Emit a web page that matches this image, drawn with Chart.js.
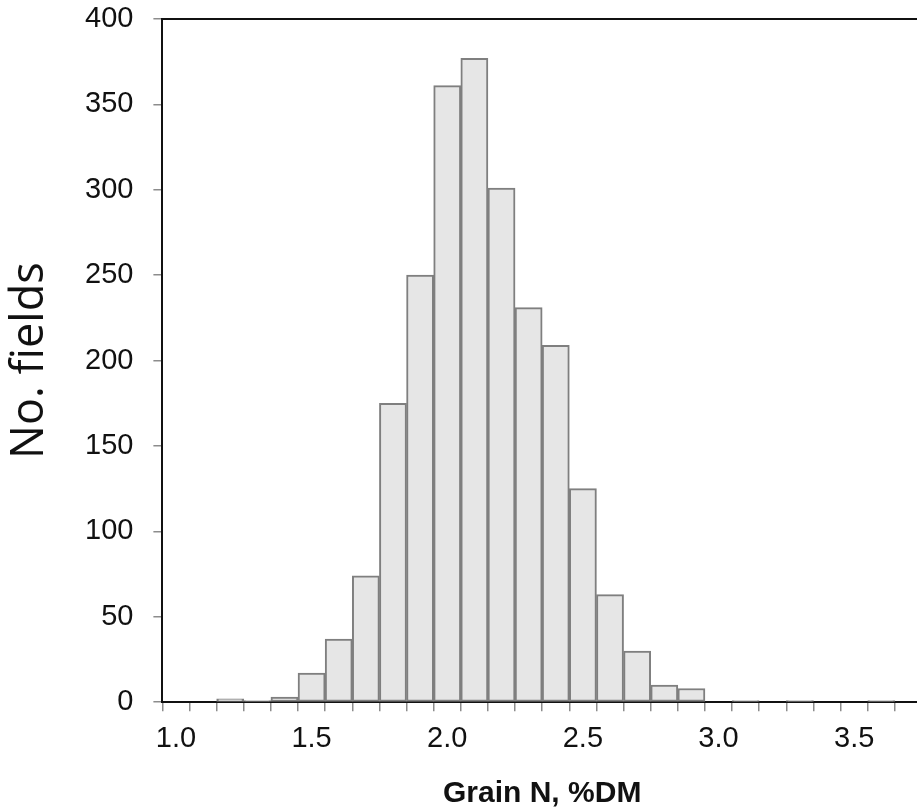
<!DOCTYPE html>
<html>
<head>
<meta charset="utf-8">
<script src="https://cdn.jsdelivr.net/npm/chart.js@4/dist/chart.umd.min.js"></script>
<style>
  html, body { margin: 0; padding: 0; background: #fff; overflow: hidden; }
  #wrap { width: 917px; height: 812px; overflow: hidden; }
</style>
</head>
<body>
<div id="wrap">
  <canvas id="hist" width="923" height="812"></canvas>
</div>
<script>
// bins of grain N (%DM), width 0.1
const bins = ["1.0", "1.1", "1.2", "1.3", "1.4", "1.5", "1.6", "1.7", "1.8", "1.9",
  "2.0", "2.1", "2.2", "2.3", "2.4", "2.5", "2.6", "2.7", "2.8", "2.9",
  "3.0", "3.1", "3.2", "3.3", "3.4", "3.5", "3.6", "3.7"];
// number of fields per bin
const fields = [0, 0, 2, 1, 3, 17, 37, 74, 175, 250,
  361, 377, 301, 231, 209, 125, 63, 30, 10, 8,
  0, 1, 0, 1, 0, 0, 1, 0];
const yTicks = [0, 50, 100, 150, 200, 250, 300, 350, 400];

const labelFont = "Liberation Sans, Arial, sans-serif";

// top frame line
const frameTop = {
  id: "frameTop",
  afterDraw(chart) {
    const { ctx, chartArea } = chart;
    ctx.save();
    ctx.strokeStyle = "#111";
    ctx.lineWidth = 2;
    ctx.beginPath();
    ctx.moveTo(chartArea.left - 1, chartArea.top);
    ctx.lineTo(chartArea.right, chartArea.top);
    ctx.stroke();
    ctx.restore();
  }
};

const ctx = document.getElementById("hist").getContext("2d");
new Chart(ctx, {
  type: "bar",
  data: {
    labels: bins,
    datasets: [{
      data: fields,
      backgroundColor: "#e6e6e6",
      borderColor: "#7f7f7f",
      borderWidth: 2,
      borderSkipped: false,
      categoryPercentage: 1.0,
      barPercentage: 1.0
    }]
  },
  options: {
    responsive: false,
    animation: false,
    layout: { padding: { top: 0, left: 3, right: 1, bottom: 0 } },
    plugins: {
      legend: { display: false },
      tooltip: { enabled: false }
    },
    scales: {
      x: {
        grid: {
          offset: true,
          drawOnChartArea: false,
          drawTicks: true,
          tickLength: 9,
          color: "#8c8c8c",
          lineWidth: 1.5
        },
        border: { color: "#111", width: 2 },
        ticks: {
          autoSkip: false,
          maxRotation: 0,
          padding: 10,
          color: "#111",
          font: { family: labelFont, size: 29 },
          callback: (v, i) => (i % 5 === 0 ? bins[i] : "")
        },
        title: {
          display: true,
          text: "Grain N, %DM",
          color: "#111",
          padding: { top: 10, bottom: 0 },
          font: { family: labelFont, size: 30, weight: "bold" }
        }
      },
      y: {
        min: 0,
        max: 400,
        afterBuildTicks: (axis) => { axis.ticks = yTicks.map(v => ({ value: v })); },
        // keep only half a label of room above the top tick
        afterFit: (axis) => { axis.paddingTop = 19; axis.paddingBottom = 17; },
        grid: {
          drawOnChartArea: false,
          drawTicks: true,
          tickLength: 9,
          color: "#8c8c8c",
          lineWidth: 1.5
        },
        border: { color: "#111", width: 2 },
        ticks: {
          padding: 20,
          color: "#111",
          font: { family: labelFont, size: 29 }
        },
        title: {
          display: true,
          text: "No. fields",
          color: "#111",
          padding: { top: 0, bottom: 8 },
          font: { family: "Open Sans, sans-serif", size: 45 }
        }
      }
    }
  },
  plugins: [frameTop]
});
</script>
</body>
</html>
